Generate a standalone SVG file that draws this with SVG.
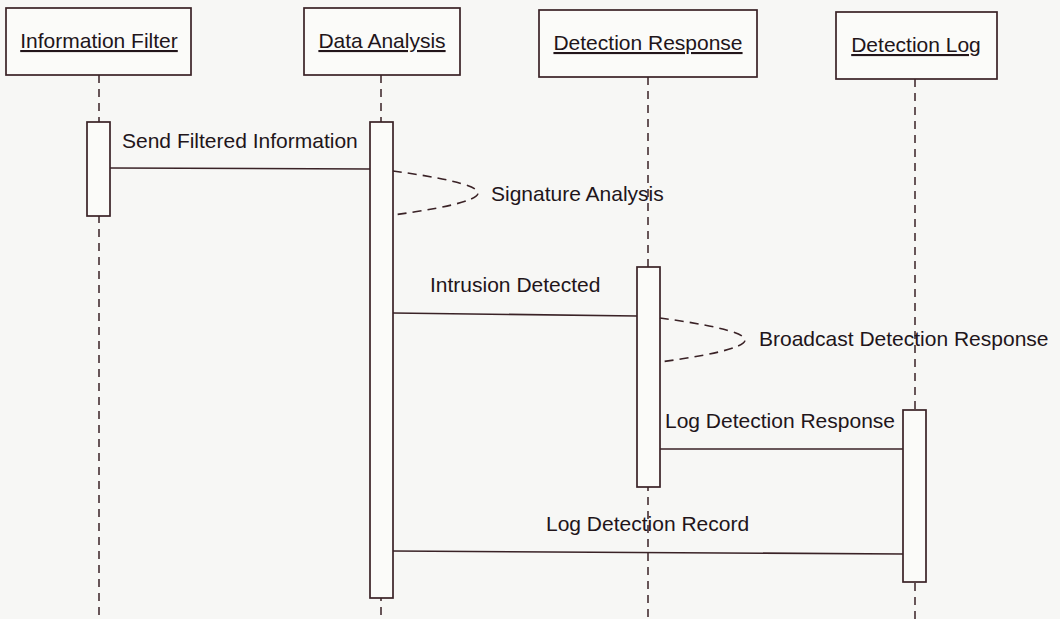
<svg xmlns="http://www.w3.org/2000/svg" width="1060" height="619" viewBox="0 0 1060 619">
  <style>
    .box { fill: #fbfbf9; stroke: #3a2226; stroke-width: 1.7; }
    .bar { fill: #fbfbf9; stroke: #3a2226; stroke-width: 1.7; }
    .life { stroke: #3a2226; stroke-width: 1.5; stroke-dasharray: 8 6; fill: none; }
    .msg { stroke: #3a2226; stroke-width: 1.6; fill: none; }
    .self { stroke: #3a2226; stroke-width: 1.6; stroke-dasharray: 9 6; fill: none; }
    .title { font-family: "Liberation Sans", Arial, sans-serif; font-size: 21px; fill: #22151a; text-anchor: middle; text-decoration: underline; }
    .label { font-family: "Liberation Sans", Arial, sans-serif; font-size: 21px; fill: #22151a; }
  </style>
  <rect x="0" y="0" width="1060" height="619" fill="#f7f7f5"/>

  <!-- lifelines -->
  <g id="lifelines">
    <line class="life" x1="99" y1="75" x2="99" y2="619"/>
    <line class="life" x1="381" y1="75" x2="381" y2="619"/>
    <line class="life" x1="648" y1="77" x2="648" y2="619"/>
    <line class="life" x1="915" y1="79" x2="915" y2="619"/>
  </g>

  <!-- participants -->
  <g id="information-filter">
    <rect class="box" x="6" y="8" width="185" height="67"/>
    <text class="title" x="99" y="48">Information Filter</text>
    <rect class="bar" x="87" y="122" width="23" height="94"/>
  </g>
  <g id="data-analysis">
    <rect class="box" x="304" y="8" width="156" height="67"/>
    <text class="title" x="382" y="48">Data Analysis</text>
    <rect class="bar" x="370" y="122" width="23" height="476"/>
  </g>
  <g id="detection-response">
    <rect class="box" x="539" y="10" width="218" height="67"/>
    <text class="title" x="648" y="50">Detection Response</text>
    <rect class="bar" x="637" y="267" width="23" height="220"/>
  </g>
  <g id="detection-log">
    <rect class="box" x="836" y="12" width="161" height="67"/>
    <text class="title" x="916" y="52">Detection Log</text>
    <rect class="bar" x="903" y="410" width="23" height="172"/>
  </g>

  <!-- messages -->
  <g id="connectors">
    <line class="msg" x1="110" y1="168" x2="370" y2="169"/>
    <path class="self" d="M393,171 C430,176 478,184 478,193 C478,202 430,210 393,215"/>
    <line class="msg" x1="393" y1="313" x2="637" y2="316"/>
    <path class="self" d="M660,318 C697,323 745,331 745,340 C745,349 697,357 660,362"/>
    <line class="msg" x1="660" y1="449" x2="903" y2="449"/>
    <line class="msg" x1="393" y1="551" x2="903" y2="554"/>
  </g>

  <!-- message labels -->
  <g id="labels">
    <text class="label" x="122" y="148">Send Filtered Information</text>
    <text class="label" x="491" y="201">Signature Analysis</text>
    <text class="label" x="430" y="292">Intrusion Detected</text>
    <text class="label" x="759" y="346">Broadcast Detection Response</text>
    <text class="label" x="665" y="428">Log Detection Response</text>
    <text class="label" x="546" y="531">Log Detection Record</text>
  </g>
</svg>
